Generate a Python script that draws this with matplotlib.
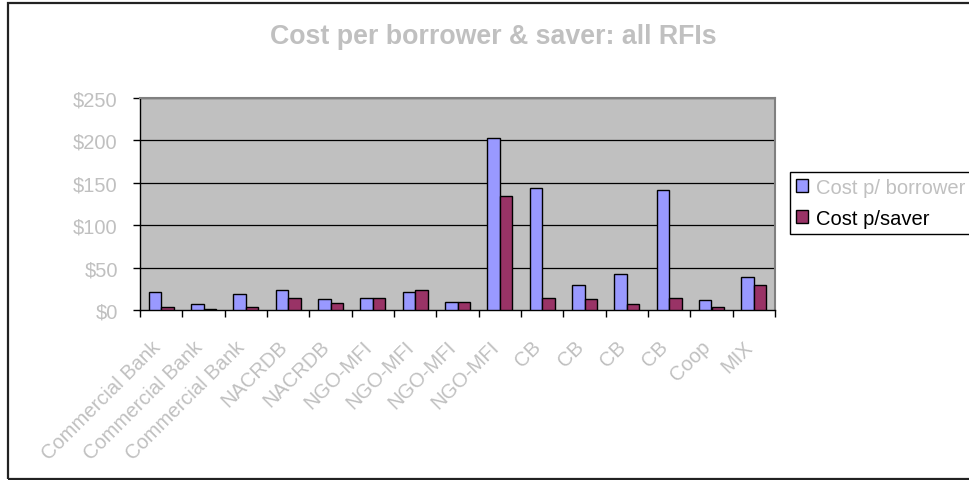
import numpy as np
import matplotlib
matplotlib.use("Agg")
import matplotlib.pyplot as plt
from matplotlib.patches import Rectangle
from matplotlib.transforms import ScaledTranslation

plt.rcParams['font.family'] = ['Liberation Sans', 'DejaVu Sans']

categories = ["Commercial Bank", "Commercial Bank", "Commercial Bank", "NACRDB", "NACRDB",
              "NGO-MFI", "NGO-MFI", "NGO-MFI", "NGO-MFI", "CB", "CB", "CB", "CB", "Coop", "MIX"]
cost_borrower = [21, 7.5, 19, 23, 13, 14, 21, 9.5, 203, 144, 29, 42, 141, 11.5, 39]
cost_saver = [3, 1.2, 3, 14.5, 8.3, 14, 24, 9.5, 135, 14, 12.5, 7.5, 14, 3, 29]
yticks = [0, 50, 100, 150, 200, 250]

label_grey = "#C0C0C0"

fig = plt.figure(figsize=(9.69, 4.81), dpi=100)
ax = fig.add_axes([140/969, 1 - 311/481, 635/969, 212/481])
ax.set_facecolor("#C0C0C0")

x = np.arange(len(categories))
w = 0.295
ax.bar(x - w/2, cost_borrower, w, color="#9999FF", edgecolor="black", linewidth=1,
       label="Cost p/ borrower", zorder=3)
ax.bar(x + w/2, cost_saver, w, color="#993366", edgecolor="black", linewidth=1,
       label="Cost p/saver", zorder=3)

ax.set_xlim(-0.5, len(categories) - 0.5)
ax.set_ylim(0, 250)
ax.set_yticks(yticks)
ax.set_yticklabels(["$%d" % v for v in yticks])
for v in yticks[1:]:
    ax.axhline(v, color="black", linewidth=0.9, zorder=1)

# category boundaries carry the tick marks, names sit at the centres
ax.set_xticks(np.arange(len(categories) + 1) - 0.5)
ax.set_xticklabels([])
ax.set_xticks(x, minor=True)
ax.set_xticklabels(categories, minor=True, rotation=45, ha="right", va="center",
                   rotation_mode="anchor", color=label_grey, fontsize=14.5)
ax.tick_params(axis="x", which="minor", length=0, pad=24)
ax.tick_params(axis="x", which="major", length=5, width=1, color="black")
ax.tick_params(axis="y", length=5, width=1, color="black", labelcolor=label_grey,
               labelsize=14.5, pad=11)
shift = ScaledTranslation(-4/100, 0, fig.dpi_scale_trans)
for lab in ax.get_xticklabels(minor=True):
    lab.set_transform(lab.get_transform() + shift)

for side in ["top", "right"]:
    ax.spines[side].set_color("#808080")
    ax.spines[side].set_linewidth(1.5)
for side in ["left", "bottom"]:
    ax.spines[side].set_color("black")
    ax.spines[side].set_linewidth(1)

fig.text(493/969, 1 - 37/481, "Cost per borrower & saver: all RFIs", ha="center", va="center",
         fontsize=19.3, fontweight="bold", color=label_grey)

leg = fig.legend(loc="upper left", bbox_to_anchor=(790/969, 1 - 172.5/481), fontsize=14.5,
                 frameon=True, fancybox=False, edgecolor="black", framealpha=1,
                 handlelength=0.6, handleheight=0.6, handletextpad=0.4,
                 borderpad=0.3, labelspacing=0.6, borderaxespad=0)
leg.get_frame().set_linewidth(1)
leg.get_texts()[0].set_color(label_grey)
leg.get_texts()[1].set_color("black")

fig.add_artist(Rectangle((8/969, 1/481), 1.0, 476/481, transform=fig.transFigure,
                         fill=False, edgecolor="#222222", linewidth=1.6, clip_on=False))

fig.savefig("out.png", dpi=100)
